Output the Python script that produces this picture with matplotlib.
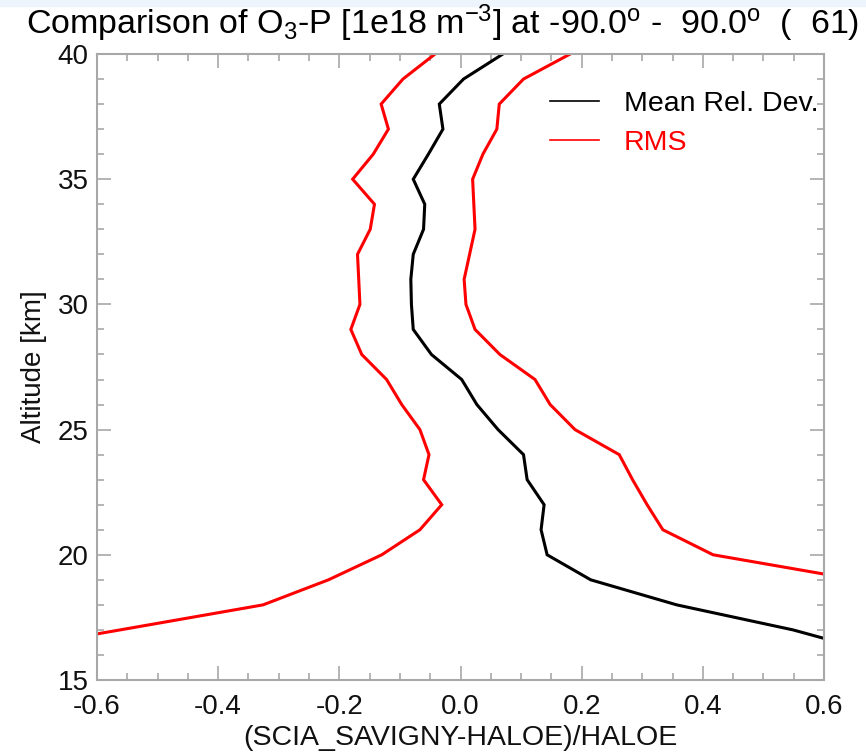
import matplotlib
matplotlib.use("Agg")
import matplotlib.pyplot as plt
from matplotlib.lines import Line2D
from matplotlib.patches import Rectangle
from matplotlib.ticker import MultipleLocator

# ===================== data =====================
altitude = [40, 39, 38, 37, 36, 35, 34, 33, 32, 31, 30, 29, 28,
            27, 26, 25, 24, 23, 22, 21, 20, 19, 18, 17, 16]
mean_rel_dev = [0.070, 0.005, -0.035, -0.029, -0.053, -0.078, -0.059, -0.061,
                -0.078, -0.082, -0.081, -0.078, -0.048,
                0.002, 0.027, 0.062, 0.104, 0.110, 0.138, 0.133, 0.143,
                0.215, 0.357, 0.549, 0.70]
rms_low = [-0.042, -0.095, -0.131, -0.119, -0.144, -0.178, -0.142, -0.149,
           -0.170, -0.168, -0.166, -0.181, -0.163,
           -0.122, -0.097, -0.067, -0.052, -0.061, -0.031, -0.067, -0.130,
           -0.218, -0.326, -0.562, -0.80]
rms_high = [0.181, 0.104, 0.064, 0.060, 0.037, 0.020, 0.022, 0.024,
            0.015, 0.006, 0.009, 0.024, 0.065,
            0.123, 0.148, 0.189, 0.262, 0.284, 0.308, 0.334, 0.417,
            0.655, 0.90, 1.10, 1.30]

x_ticks = [-0.6, -0.4, -0.2, 0.0, 0.2, 0.4, 0.6]
y_ticks = [15, 20, 25, 30, 35, 40]

title = r"Comparison of O$_3$-P [1e18 m$^{-3}$] at -90.0$^{\rm o}$ -  90.0$^{\rm o}$  (  61)"
xlabel = "(SCIA_SAVIGNY-HALOE)/HALOE"
ylabel = "Altitude [km]"

# ===================== style =====================
plt.rcParams['font.family'] = ['Liberation Sans', 'DejaVu Sans']
plt.rcParams['mathtext.fontset'] = 'custom'
plt.rcParams['mathtext.rm'] = 'Liberation Sans'
plt.rcParams['mathtext.it'] = 'Liberation Sans'
frame_col = '#a8a8a8'
text_col = '#111111'
fs = 20

fig = plt.figure(figsize=(8.66, 7.53), dpi=100)
fig.patches.append(Rectangle((0, 1 - 6 / 753), 1, 6 / 753, transform=fig.transFigure,
                             color='#eef4fb', zorder=-1))
ax = fig.add_axes([97 / 866, 1 - 680 / 753, 727 / 866, 626 / 753])

ax.plot(mean_rel_dev, altitude, color='black', lw=2.2, solid_joinstyle='miter')
ax.plot(rms_low, altitude, color='#ff0000', lw=2.2, solid_joinstyle='miter')
ax.plot(rms_high, altitude, color='#ff0000', lw=2.2, solid_joinstyle='miter')

ax.set_xlim(-0.6, 0.6)
ax.set_ylim(15, 40)
ax.set_xticks(x_ticks)
ax.set_xticklabels([f"{v:.1f}" for v in x_ticks])
ax.set_yticks(y_ticks)
ax.xaxis.set_minor_locator(MultipleLocator(0.05))
ax.yaxis.set_minor_locator(MultipleLocator(1))
ax.tick_params(which='both', direction='in', top=True, right=True,
               color=frame_col, width=1.2, labelsize=fs, labelcolor=text_col)
ax.tick_params(axis='x', which='major', length=10, pad=10)
ax.tick_params(axis='y', which='major', length=10, pad=6)
ax.tick_params(which='minor', length=5)
for sp in ax.spines.values():
    sp.set_color(frame_col)
    sp.set_linewidth(1.5)

ax.set_xlabel(xlabel, fontsize=fs + 0.5, labelpad=4, color=text_col)
ax.set_ylabel(ylabel, fontsize=fs, labelpad=8, color=text_col)

handles = [Line2D([], [], color='black', lw=1.2),
           Line2D([], [], color='#ff0000', lw=1.2)]
ax.legend(handles, ['Mean Rel. Dev.', 'RMS'], loc='upper right',
          bbox_to_anchor=(0.992, 0.9405), frameon=False, fontsize=fs + 0.5,
          labelcolor=['black', '#ff0000'], handlelength=1.72,
          handletextpad=0.88, labelspacing=0.435, borderaxespad=0, borderpad=0)

fig.text(443 / 866, 1 - 23 / 753, title, ha='center', va='center',
         fontsize=24.5, color='black')

fig.savefig("out.png", dpi=100)
